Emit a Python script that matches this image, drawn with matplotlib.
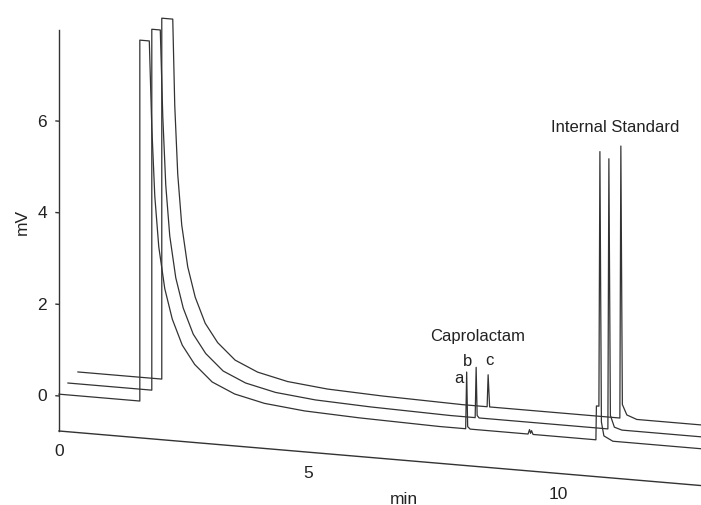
import numpy as np
import matplotlib
matplotlib.use("Agg")
import matplotlib.pyplot as plt
import matplotlib.transforms as mtransforms

plt.rcParams['font.family'] = ['Liberation Sans', 'DejaVu Sans']

# three stacked chromatograms (trace-local time in min, signal in mV)
t_a = [0, 1.62, 1.62, 1.81, 1.86, 1.92, 2.00, 2.12, 2.27, 2.47, 2.72, 3.07, 3.52, 4.12, 4.92, 6.02, 7.62,
       8.15, 8.17, 8.19, 8.24, 9.40, 9.43, 9.45, 9.47, 9.50,
       10.76, 10.77, 10.82, 10.84, 10.87, 10.92, 11.1, 13.2]
v_a = [0, 0, 7.88, 7.88, 6.0, 4.5, 3.4, 2.5, 1.85, 1.3, 0.9, 0.55, 0.33, 0.18, 0.09, 0.04, 0.0,
       0, 1.24, 0.05, 0, 0, 0.1, 0.02, 0.08, 0,
       0, 0.74, 0.74, 6.3, 0.4, 0.1, 0, 0]

t_b = [0, 1.68, 1.68, 1.85, 1.90, 1.96, 2.04, 2.16, 2.31, 2.51, 2.76, 3.11, 3.56, 4.16, 4.96, 6.06, 7.66,
       8.16, 8.18, 8.20, 8.24, 10.82, 10.84, 10.87, 10.95, 11.1, 13.2]
v_b = [0, 0, 7.88, 7.88, 6.0, 4.5, 3.4, 2.5, 1.85, 1.3, 0.9, 0.55, 0.33, 0.18, 0.09, 0.04, 0.0,
       0, 1.1, 0.05, 0, 0, 5.9, 0.3, 0.05, 0, 0]

t_c = [0, 1.68, 1.68, 1.90, 1.94, 2.00, 2.08, 2.20, 2.35, 2.55, 2.80, 3.15, 3.60, 4.20, 5.00, 6.10, 7.70,
       8.20, 8.22, 8.25, 10.86, 10.88, 10.91, 11.0, 11.2, 13.2]
v_c = [0, 0, 7.88, 7.88, 6.0, 4.5, 3.4, 2.5, 1.85, 1.3, 0.9, 0.55, 0.33, 0.18, 0.09, 0.04, 0.0,
       0, 0.7, 0, 0, 5.94, 0.3, 0.08, 0, 0]

# offsets of each trace in the stacked view (min, mV)
offsets = [(0.0, 0.04), (0.18, 0.30), (0.38, 0.56)]

y_ticks = [0, 2, 4, 6]
x_ticks = [0, 5, 10]
floor_v = -0.764
skew_k = 0.0926  # mV per min drop of the oblique time axis

fig = plt.figure(figsize=(7.01, 5.06), dpi=100)
ax = fig.add_axes([0, 0, 1, 1])
ax.set_xlim(-1.182, 12.866)
ax.set_ylim(-2.380, 8.668)
ax.axis('off')

skew = mtransforms.Affine2D().from_values(1, -skew_k, 0, 1, 0, 0) + ax.transData

ink = '#333333'
line_kw = dict(color=ink, lw=0.9, transform=skew, clip_on=True)
for (t, v), (dt, dv) in zip([(t_a, v_a), (t_b, v_b), (t_c, v_c)], offsets):
    ax.plot(np.array(t) + dt, np.array(v) + dv, **line_kw)

# axes: vertical mV axis and slanted time axis
ax.plot([0, 0], [floor_v, 8.0], color=ink, lw=1.0, transform=skew)
ax.plot([0, 13.5], [floor_v, floor_v], color=ink, lw=1.0, transform=skew)

for yt in y_ticks:
    ax.plot([-0.06, 0], [yt, yt], color=ink, lw=1.0, transform=skew)
    ax.annotate(str(yt), xy=(0, yt), xycoords=skew, xytext=(-12, 0), textcoords='offset pixels',
                ha='right', va='center', fontsize=12.5, color='#222222')

for xt in x_ticks:
    ax.annotate(str(xt), xy=(xt, floor_v), xycoords=skew, xytext=(0, -20), textcoords='offset pixels',
                ha='center', va='center', fontsize=12.5, color='#222222')

fig.text(22 / 701, 1 - 222 / 506, 'mV', rotation=90, ha='center', va='center', fontsize=12.5, color='#222222')
fig.text(404 / 701, 1 - 500 / 506, 'min', ha='center', va='center', fontsize=12.5, color='#222222')
fig.text(615 / 701, 1 - 128 / 506, 'Internal Standard', ha='center', va='center', fontsize=12, color='#222222')
fig.text(478 / 701, 1 - 336 / 506, 'Caprolactam', ha='center', va='center', fontsize=12, color='#222222')
fig.text(459 / 701, 1 - 379 / 506, 'a', ha='center', va='center', fontsize=12, color='#222222')
fig.text(468 / 701, 1 - 362 / 506, 'b', ha='center', va='center', fontsize=12, color='#222222')
fig.text(489 / 701, 1 - 361 / 506, 'c', ha='center', va='center', fontsize=12, color='#222222')

fig.savefig('out.png', dpi=100)
